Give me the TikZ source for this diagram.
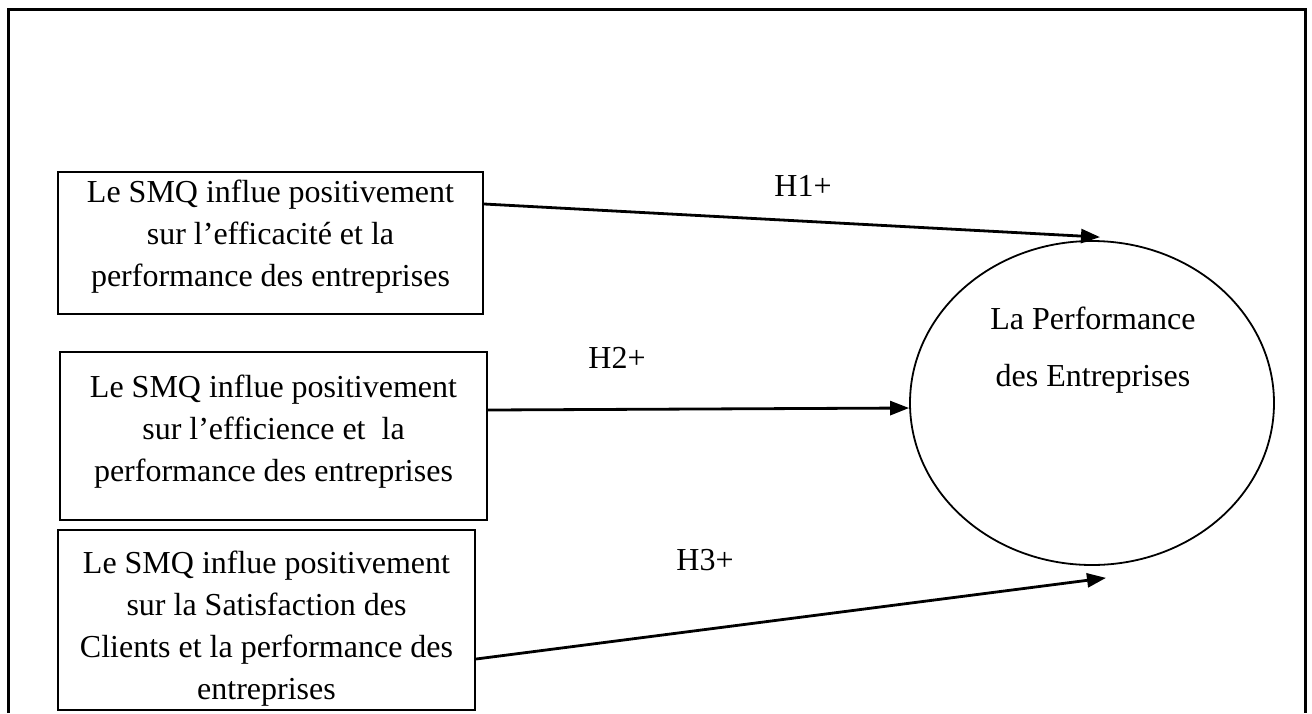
\documentclass[tikz,border=0pt]{standalone}
\usepackage{fontspec}
\setmainfont{Liberation Serif}
\usetikzlibrary{shapes.geometric,arrows.meta,calc}

\begin{document}
\begin{tikzpicture}[
    x=0.5pt, y=-0.5pt,
    frame/.style={line width=1.5pt},
    hbox/.style={draw, line width=1.1pt, rectangle, inner sep=0pt},
    txt/.style={align=center, inner sep=0pt, anchor=base,
                font=\fontsize{16}{21}\selectfont},
    ovaltxt/.style={align=center, inner sep=0pt, anchor=base,
                font=\fontsize{16}{28.5}\selectfont},
    lbl/.style={inner sep=0pt, anchor=base, font=\fontsize{16}{19}\selectfont},
    link/.style={line width=1.4pt, -{Triangle[length=9.5pt,width=7pt]}}
  ]
  \useasboundingbox (0,0) rectangle (1312,713);

  % open outer frame
  \draw[frame] (8,713) -- (8,9) -- (1305,9) -- (1305,713);

  % hypothesis boxes
  \node[hbox, minimum width=212.5pt, minimum height=71pt] (b1) at (270.5,243) {};
  \node[hbox, minimum width=213.5pt, minimum height=84pt] (b2) at (273.5,436) {};
  \node[hbox, minimum width=208.5pt, minimum height=90pt] (b3) at (266.5,620) {};

  % box texts, placed by the baseline of their last line
  \node[txt] (t1) at (270.5,286) {Le SMQ influe positivement\\ sur l’efficacité et la\\ performance des entreprises};
  \node[txt] (t2) at (273.5,481) {Le SMQ influe positivement\\ sur l’efficience et\ \ la\\ performance des entreprises};
  \node[txt] (t3) at (266.5,699) {Le SMQ influe positivement\\ sur la Satisfaction des\\ Clients et la performance des\\ entreprises};

  % performance ellipse
  \node[draw, ellipse, line width=0.9pt, inner sep=0pt,
        minimum width=182pt, minimum height=162pt] (perf) at (1092,403) {};
  \node[ovaltxt] (tp) at (1093,386) {La Performance\\ des Entreprises};

  % arrow ends
  \coordinate (e1) at ($(perf.north)+(8,-3)$);
  \coordinate (e2) at ($(perf.west)+(0,5)$);
  \coordinate (e3) at ($(perf.south)+(14,12)$);

  \draw[link] ($(b1.east)+(0,-39)$) -- (e1);
  \draw[link] ($(b2.east)+(0,-26)$) -- (e2);
  \draw[link] ($(b3.east)+(0,39)$) -- (e3);

  % hypothesis labels
  \node[lbl] (h1) at (803,196) {H1+};
  \node[lbl] (h2) at (617,368) {H2+};
  \node[lbl] (h3) at (705,570) {H3+};
\end{tikzpicture}
\end{document}
